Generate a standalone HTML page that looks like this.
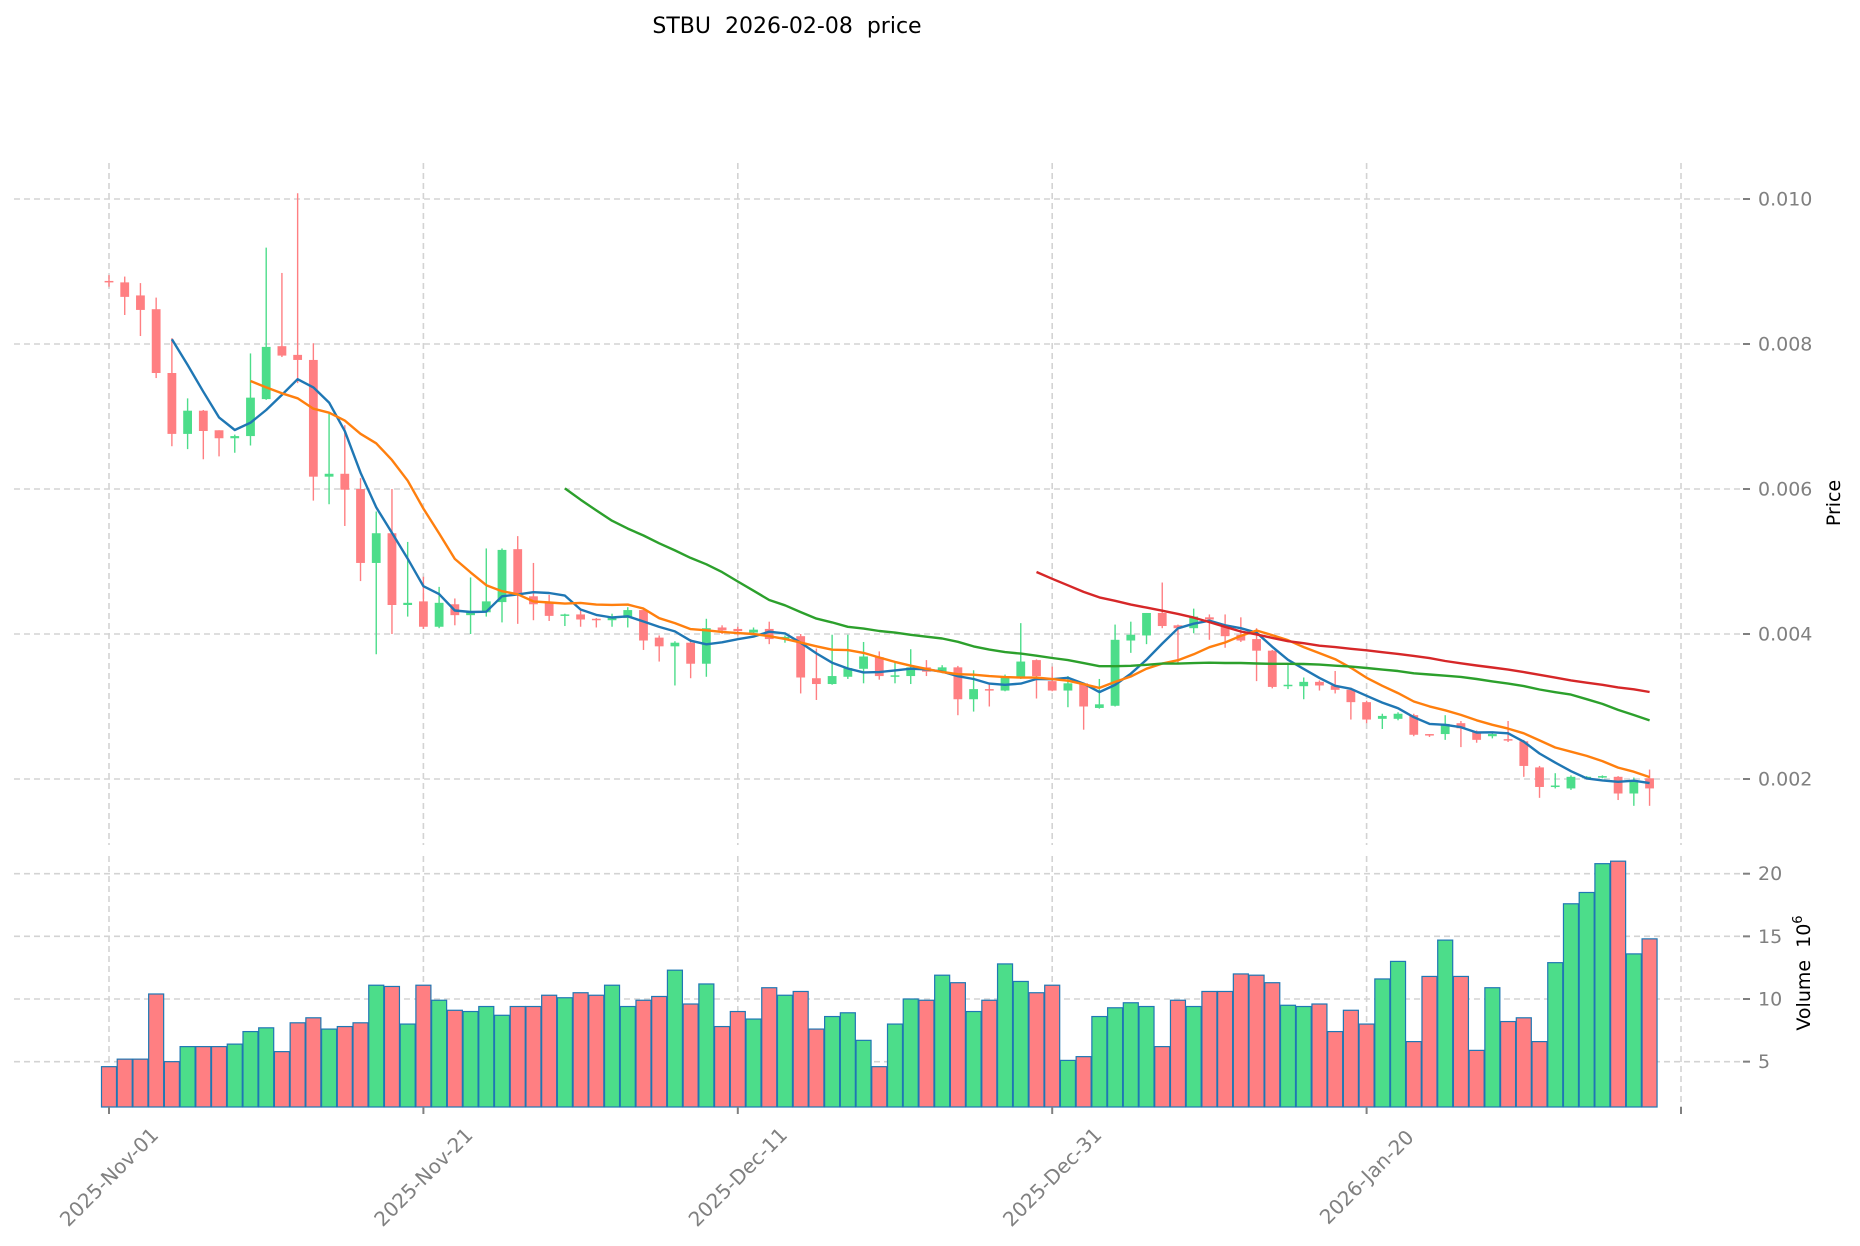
<!DOCTYPE html>
<html><head><meta charset="utf-8"><title>STBU price</title>
<style>
html,body{margin:0;padding:0;background:#fff;}
svg{display:block;font-family:"DejaVu Sans","Liberation Sans",sans-serif;}
text{white-space:pre;}
</style></head>
<body>
<svg id="chart" width="1860" height="1246" viewBox="0 0 1860 1246" xmlns="http://www.w3.org/2000/svg" xml:space="preserve">
<text x="787" y="33" text-anchor="middle" font-size="22" fill="#000">STBU  2026-02-08  price</text>
<g id="grid"></g>
<g id="volume"></g>
<g id="candles"></g>
<g id="mas"></g>
<g id="axes"></g>
<text transform="translate(1840,503) rotate(-90)" text-anchor="middle" font-size="19" fill="#000">Price</text>
<text transform="translate(1810,973) rotate(-90)" text-anchor="middle" font-size="19" fill="#000">Volume  10<tspan dy="-8" font-size="13">6</tspan></text>
</svg>
<script>
const opens  = [.00887,.00885,.00867,.00848,.00760,.00676,.00708,.00681,.00670,.00673,.00724,.00797,.00785,.00778,.00617,.00621,.00600,.00498,.00539,.00440,
.00445,.00410,.00441,.00426,.00430,.00444,.00517,.00452,.00443,.00425,.00427,.00421,.00419,.00422,.00433,.00395,.00383,.00388,.00359,.00409,
.00407,.00402,.00407,.00393,.00397,.00339,.00331,.00341,.00352,.00368,.00342,.00342,.00354,.00348,.00354,.00310,.00324,.00322,.00340,.00364,
.00335,.00322,.00332,.00298,.00301,.00391,.00398,.00429,.00412,.00408,.00423,.00410,.00399,.00393,.00377,.00328,.00328,.00334,.00329,.00323,
.00306,.00283,.00283,.00288,.00262,.00262,.00277,.00265,.00259,.00255,.00252,.00216,.00189,.00187,.00202,.00202,.00203,.00180,.00201];
const highs  = [.00895,.00893,.00884,.00864,.00808,.00725,.00709,.00681,.00675,.00787,.00933,.00898,.01008,.00801,.00704,.00688,.00615,.00569,.00600,.00527,
.00479,.00465,.00449,.00478,.00518,.00518,.00535,.00498,.00454,.00428,.00433,.00422,.00428,.00437,.00436,.00398,.00390,.00393,.00421,.00412,
.00410,.00409,.00417,.00398,.00400,.00380,.00399,.00399,.00389,.00376,.00362,.00379,.00364,.00357,.00356,.00350,.00331,.00344,.00415,.00365,
.00355,.00342,.00333,.00338,.00413,.00417,.00429,.00471,.00413,.00435,.00427,.00427,.00423,.00408,.00378,.00359,.00340,.00336,.00349,.00326,
.00308,.00290,.00292,.00290,.00262,.00288,.00280,.00267,.00263,.00280,.00254,.00218,.00208,.00205,.00204,.00205,.00204,.00202,.00213];
const lows   = [.00879,.00840,.00811,.00753,.00659,.00655,.00641,.00645,.00650,.00660,.00723,.00782,.00746,.00584,.00579,.00549,.00473,.00372,.00400,.00424,
.00407,.00408,.00412,.00400,.00424,.00416,.00414,.00419,.00418,.00411,.00410,.00409,.00410,.00409,.00378,.00362,.00329,.00339,.00341,.00400,
.00398,.00400,.00386,.00388,.00318,.00309,.00330,.00338,.00332,.00337,.00332,.00331,.00342,.00346,.00288,.00293,.00300,.00321,.00338,.00311,
.00321,.00299,.00268,.00297,.00300,.00374,.00386,.00408,.00360,.00401,.00392,.00381,.00389,.00335,.00325,.00324,.00310,.00322,.00318,.00282,
.00277,.00269,.00281,.00259,.00258,.00254,.00244,.00250,.00256,.00251,.00203,.00174,.00187,.00185,.00200,.00201,.00171,.00163,.00163];
const closes = [.00885,.00865,.00847,.00760,.00676,.00708,.00680,.00670,.00673,.00726,.00796,.00784,.00778,.00617,.00621,.00599,.00498,.00539,.00440,.00443,
.00410,.00443,.00426,.00430,.00445,.00516,.00456,.00441,.00425,.00427,.00420,.00419,.00423,.00433,.00391,.00383,.00388,.00359,.00408,.00405,
.00404,.00406,.00393,.00396,.00340,.00331,.00342,.00353,.00369,.00342,.00343,.00354,.00348,.00354,.00310,.00324,.00322,.00340,.00362,.00342,
.00322,.00332,.00300,.00303,.00392,.00399,.00429,.00411,.00408,.00424,.00420,.00397,.00391,.00377,.00327,.00330,.00334,.00329,.00323,.00306,
.00282,.00287,.00290,.00261,.00260,.00276,.00270,.00254,.00262,.00253,.00218,.00189,.00191,.00203,.00203,.00204,.00180,.00198,.00187];
const volumes = [4.6,5.2,5.2,10.4,5.0,6.2,6.2,6.2,6.4,7.4,7.7,5.8,8.1,8.5,7.6,7.8,8.1,11.1,11.0,8.0,
11.1,9.9,9.1,9.0,9.4,8.7,9.4,9.4,10.3,10.1,10.5,10.3,11.1,9.4,9.9,10.2,12.3,9.6,11.2,7.8,
9.0,8.4,10.9,10.3,10.6,7.6,8.6,8.9,6.7,4.6,8.0,10.0,9.9,11.9,11.3,9.0,9.9,12.8,11.4,10.5,
11.1,5.1,5.4,8.6,9.3,9.7,9.4,6.2,9.9,9.4,10.6,10.6,12.0,11.9,11.3,9.5,9.4,9.6,7.4,9.1,
8.0,11.6,13.0,6.6,11.8,14.7,11.8,5.9,10.9,8.2,8.5,6.6,12.9,17.6,18.5,20.8,21.0,13.6,14.8];
const priceTicks = [0.002,0.004,0.006,0.008,0.010];
const priceTickLabels = ["0.002","0.004","0.006","0.008","0.010"];
const volTicks = [5,10,15,20];
const xTickDays = [0,20,40,60,80,100];
const xTickLabels = ["2025-Nov-01","2025-Nov-21","2025-Dec-11","2025-Dec-31","2026-Jan-20",""];
const maPeriods = [5,10,30,60];
const maColors = ["#1f77b4","#ff7f0e","#2ca02c","#d62728"];

const NS="http://www.w3.org/2000/svg";
const X = i => 109 + 15.72*i;
const YP = p => 199 + (0.010 - p)*72500;
const YV = v => 1124.3 - v*12.53;
const LEFT=14, RIGHT=1743, PTOP=163, PBOT=845, VTOP=856, VBOT=1107;
const RED="#ff7f82", GREEN="#4cdd8a";
function mk(tag, attrs, parent){const e=document.createElementNS(NS,tag);for(const k in attrs)e.setAttribute(k,attrs[k]);parent.appendChild(e);return e;}
const grid=document.getElementById('grid'), axes=document.getElementById('axes');
const gs={stroke:"#d3d3d3","stroke-width":1.6,"stroke-dasharray":"6 4",fill:"none"};

priceTicks.forEach((p,k)=>{
  const y=YP(p);
  const g=mk('line',Object.assign({x1:LEFT,x2:RIGHT,y1:y,y2:y},gs),grid);
  
  
  const t=mk('line',{x1:RIGHT,x2:RIGHT+7,y1:y,y2:y,stroke:"#808080","stroke-width":2},axes);
  
  
  const l=mk('text',{x:RIGHT+15,y:y+6.5,"font-size":19,fill:"#808080"},axes);
  l.textContent=priceTickLabels[k];
  
  
});
volTicks.forEach(v=>{
  const y=YV(v);
  const g=mk('line',Object.assign({x1:LEFT,x2:RIGHT,y1:y,y2:y},gs),grid);
  
  
  const t=mk('line',{x1:RIGHT,x2:RIGHT+7,y1:y,y2:y,stroke:"#808080","stroke-width":2},axes);
  
  
  const l=mk('text',{x:RIGHT+15,y:y+6.5,"font-size":19,fill:"#808080"},axes);
  l.textContent=String(v);
  
  
});
xTickDays.forEach((d,k)=>{
  const x=X(d);
  const g1=mk('line',Object.assign({x1:x,x2:x,y1:PTOP,y2:PBOT},gs),grid);
  
  
  const g2=mk('line',Object.assign({x1:x,x2:x,y1:VTOP,y2:VBOT},gs),grid);
  
  
  const t=mk('line',{x1:x,x2:x,y1:VBOT,y2:VBOT+7,stroke:"#808080","stroke-width":2},axes);
  
  
  if(xTickLabels[k]){
    const l=mk('text',{transform:`translate(${x},1177) rotate(-45)`,"text-anchor":"middle","dominant-baseline":"central","font-size":20,fill:"#808080"},axes);
    l.textContent=xTickLabels[k];
    
    
  }
});

const vg=document.getElementById('volume');
volumes.forEach((v,i)=>{
  const up=closes[i]>=opens[i];
  const top=YV(v);
  const r=mk('rect',{x:X(i)-7.5,y:top,width:15,height:Math.max(0,VBOT-top),fill:up?GREEN:RED,stroke:"#1f77b4","stroke-width":1.2},vg);
  
  
});

const cg=document.getElementById('candles');
opens.forEach((o,i)=>{
  const c=closes[i], up=c>=o, col=up?GREEN:RED, x=X(i);
  const w=mk('line',{x1:x,x2:x,y1:YP(highs[i]),y2:YP(lows[i]),stroke:col,"stroke-width":1.4},cg);
  
  
  const yt=YP(Math.max(o,c)), yb=YP(Math.min(o,c));
  const b=mk('rect',{x:x-4.4,y:yt,width:8.8,height:Math.max(1.5,yb-yt),fill:col},cg);
  
  
});

const mg=document.getElementById('mas');
maPeriods.forEach((n,k)=>{
  const pts=[];
  for(let i=n-1;i<closes.length;i++){
    let s=0;for(let j=i-n+1;j<=i;j++)s+=closes[j];
    pts.push(X(i).toFixed(1)+","+YP(s/n).toFixed(1));
  }
  const pl=mk('polyline',{points:pts.join(" "),fill:"none",stroke:maColors[k],"stroke-width":2.4,"stroke-linejoin":"round"},mg);
  
  
});
</script>
</body></html>
